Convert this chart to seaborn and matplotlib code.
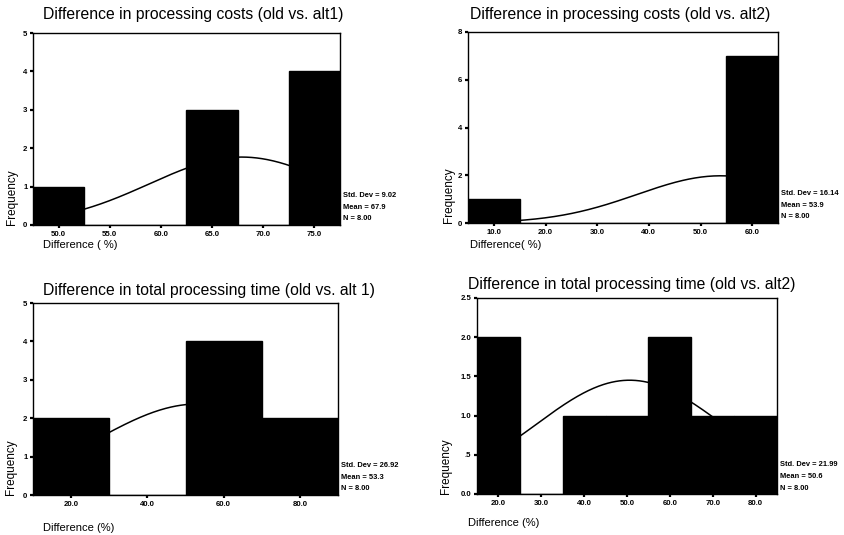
import numpy as np
import seaborn as sns
import matplotlib.pyplot as plt

# ----------------------------------------------------------
# Data (bin centres, counts, summary stats)
# ----------------------------------------------------------
costs_alt1_bins = [50.0, 55.0, 60.0, 65.0, 70.0, 75.0]
costs_alt1_counts = [1, 0, 0, 3, 0, 4]
costs_alt1_stats = (9.02, 67.9, 8)

costs_alt2_bins = [10.0, 20.0, 30.0, 40.0, 50.0, 60.0]
costs_alt2_counts = [1, 0, 0, 0, 0, 7]
costs_alt2_stats = (16.14, 53.9, 8)

time_alt1_bins = [20.0, 40.0, 60.0, 80.0]
time_alt1_counts = [2, 0, 4, 2]
time_alt1_stats = (26.92, 53.3, 8)

time_alt2_bins = [20.0, 30.0, 40.0, 50.0, 60.0, 70.0, 80.0]
time_alt2_counts = [2, 0, 1, 1, 2, 1, 1]
time_alt2_stats = (21.99, 50.6, 8)

titles = [
    "Difference in processing costs (old vs. alt1)",
    "Difference in processing costs (old vs. alt2)",
    "Difference in total processing time (old vs. alt 1)",
    "Difference in total processing time (old vs. alt2)",
]
xlabels = ["Difference ( %)", "Difference( %)", "Difference (%)", "Difference (%)"]
yticks = [[0, 1, 2, 3, 4, 5], [0, 2, 4, 6, 8], [0, 1, 2, 3, 4, 5],
          [0, 0.5, 1.0, 1.5, 2.0, 2.5]]
yticklabels = [["0", "1", "2", "3", "4", "5"], ["0", "2", "4", "6", "8"],
               ["0", "1", "2", "3", "4", "5"],
               ["0.0", ".5", "1.0", "1.5", "2.0", "2.5"]]

W, H = 845, 535

sns.set_style("white")
plt.rcParams['font.family'] = ['Liberation Sans', 'DejaVu Sans']
plt.rcParams['text.color'] = 'black'
plt.rcParams['xtick.color'] = 'black'
plt.rcParams['ytick.color'] = 'black'


def px_axes(fig, left, top, right, bottom):
    return fig.add_axes([left / W, 1 - bottom / H, (right - left) / W, (bottom - top) / H])


def draw_panel(fig, box, bins, counts, stats, yt, ytl, title, xlabel, title_xy, xlabel_xy, ylabel_x):
    left, top, right, bottom = box
    ax = px_axes(fig, left, top, right, bottom)
    w = bins[1] - bins[0]
    lo, hi = bins[0] - w / 2, bins[-1] + w / 2

    sns.histplot(x=bins, weights=counts, binwidth=w, binrange=(lo, hi),
                 color='black', alpha=1, edgecolor='black', linewidth=1.0,
                 ax=ax, zorder=2)

    # fitted normal curve (SPSS style), drawn behind the bars
    sd, mean, n = stats
    xs = np.linspace(lo, hi, 300)
    ys = n * w / (sd * np.sqrt(2 * np.pi)) * np.exp(-0.5 * ((xs - mean) / sd) ** 2)
    sns.lineplot(x=xs, y=ys, color='black', linewidth=1.1, ax=ax, zorder=1)

    ax.set_xlim(lo, hi)
    ax.set_ylim(yt[0], yt[-1])
    ax.set_xticks(bins)
    ax.set_xticklabels([f"{b:.1f}" for b in bins])
    ax.set_yticks(yt)
    ax.set_yticklabels(ytl)
    ax.set(xlabel='', ylabel='')
    ax.tick_params(axis='both', direction='out', length=2, width=1.6,
                   bottom=True, left=True, color='black', labelcolor='black',
                   labelsize=5.6, pad=2)
    for lab in ax.get_xticklabels() + ax.get_yticklabels():
        lab.set_fontweight('bold')
    for sp in ax.spines.values():
        sp.set_visible(True)
        sp.set_color('black')
        sp.set_linewidth(1.0)

    fig.text(title_xy[0] / W, 1 - title_xy[1] / H, title, fontsize=11.3,
             ha='left', va='center')
    fig.text(xlabel_xy[0] / W, 1 - xlabel_xy[1] / H, xlabel, fontsize=8,
             ha='left', va='center')
    fig.text(ylabel_x / W, 1 - bottom / H, "Frequency", fontsize=8.5,
             rotation=90, ha='center', va='bottom')

    lines = [f"Std. Dev = {sd:.2f}", f"Mean = {mean:.1f}", f"N = {n:.2f}"]
    for i, s in enumerate(lines):
        y = bottom - 6 - (2 - i) * 11.8
        fig.text((right + 3) / W, 1 - y / H, s, fontsize=5.4, fontweight='bold',
                 ha='left', va='center')
    return ax


fig = plt.figure(figsize=(W / 100, H / 100), dpi=100)

draw_panel(fig, (33, 33, 340, 225), costs_alt1_bins, costs_alt1_counts, costs_alt1_stats,
           yticks[0], yticklabels[0], titles[0], xlabels[0], (43, 15), (43, 245), 12)
draw_panel(fig, (468, 32, 778, 223), costs_alt2_bins, costs_alt2_counts, costs_alt2_stats,
           yticks[1], yticklabels[1], titles[1], xlabels[1], (470, 15), (470, 245), 449)
draw_panel(fig, (33, 303, 338, 495), time_alt1_bins, time_alt1_counts, time_alt1_stats,
           yticks[2], yticklabels[2], titles[2], xlabels[2], (43, 290), (43, 528), 11)
draw_panel(fig, (477, 298, 777, 494), time_alt2_bins, time_alt2_counts, time_alt2_stats,
           yticks[3], yticklabels[3], titles[3], xlabels[3], (468, 285), (468, 523), 446)

plt.savefig("out.png", dpi=100)
